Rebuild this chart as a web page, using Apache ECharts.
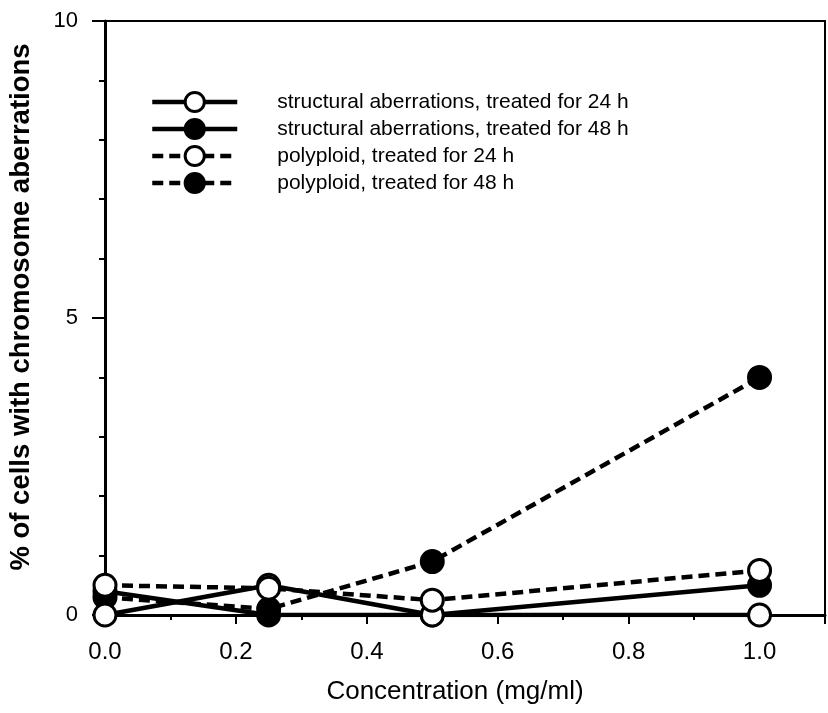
<!DOCTYPE html>
<html>
<head>
<meta charset="utf-8">
<script src="https://cdn.jsdelivr.net/npm/echarts@6/dist/echarts.min.js"></script>
<style>html,body{margin:0;padding:0;background:#fff;}#c{width:828px;height:713px;}</style>
</head>
<body>
<div id="c"></div>
<script>
var concentrations = [0, 0.25, 0.5, 1.0];
var structural24 = [0, 0.5, 0, 0];
var structural48 = [0.4, 0, 0, 0.5];
var polyploid24 = [0.5, 0.45, 0.25, 0.75];
var polyploid48 = [0.3, 0.1, 0.9, 4.0];
var seriesNames = [
  'structural aberrations, treated for 24 h',
  'structural aberrations, treated for 48 h',
  'polyploid, treated for 24 h',
  'polyploid, treated for 48 h'
];

function pairs(vals) { return concentrations.map(function (x, i) { return [x, vals[i]]; }); }

function mk(name, vals, dashed, filled, z) {
  return {
    name: name,
    type: 'line',
    data: pairs(vals),
    symbol: 'circle',
    symbolSize: 22,
    z: z,
    lineStyle: { color: '#000', width: 4.5, type: dashed ? [11, 6] : 'solid' },
    itemStyle: { color: filled ? '#000' : '#fff', borderColor: '#000', borderWidth: 3 },
    emphasis: { disabled: true },
    animation: false
  };
}

var chart = echarts.init(document.getElementById('c'), null, { renderer: 'canvas' });
chart.setOption({
  backgroundColor: '#fff',
  animation: false,
  textStyle: { fontFamily: 'Liberation Sans, Arial, sans-serif', color: '#000' },
  grid: { left: 105, right: 3, top: 21, bottom: 98, show: true, borderColor: '#000', borderWidth: 2,
    outerBoundsMode: 'none', containLabel: false },
  legend: {
    orient: 'vertical',
    left: 150,
    top: 90,
    padding: 0,
    itemWidth: 85,
    itemHeight: 24,
    itemGap: 3,
    data: seriesNames,
    lineStyle: { width: 4.5 },
    itemStyle: { borderWidth: 3 },
    textStyle: { fontSize: 21, color: '#000', padding: [0, 0, 0, 35], lineHeight: 24, fontFamily: 'Liberation Sans, Arial, sans-serif' }
  },
  xAxis: {
    type: 'value',
    min: 0,
    max: 1.1,
    interval: 0.2,
    name: 'Concentration (mg/ml)',
    nameLocation: 'middle',
    nameGap: 64,
    nameTextStyle: { fontSize: 26, color: '#000', padding: [0, 20, 0, 0] },
    axisLine: { lineStyle: { color: '#000', width: 3 } },
    axisTick: { length: 9, lineStyle: { color: '#000', width: 2 } },
    minorTick: { show: true, splitNumber: 2, length: 5, lineStyle: { color: '#000', width: 2 } },
    splitLine: { show: false },
    axisLabel: { fontSize: 24, color: '#000', margin: 25, showMaxLabel: false,
      formatter: function (v) { return v.toFixed(1); } }
  },
  yAxis: {
    type: 'value',
    min: 0,
    max: 10,
    interval: 5,
    name: '% of cells with chromosome aberrations',
    nameLocation: 'middle',
    nameGap: 70,
    nameTextStyle: { fontSize: 27.5, fontWeight: 'bold', color: '#000', padding: [0, 0, 0, 22] },
    axisLine: { lineStyle: { color: '#000', width: 3 } },
    axisTick: { length: 13, lineStyle: { color: '#000', width: 2 } },
    minorTick: { show: true, splitNumber: 5, length: 6, lineStyle: { color: '#000', width: 2 } },
    splitLine: { show: false },
    axisLabel: { fontSize: 22, color: '#000', margin: 27 }
  },
  series: [
    mk(seriesNames[0], structural24, false, false, 4),
    mk(seriesNames[1], structural48, false, true, 3),
    mk(seriesNames[2], polyploid24, true, false, 5),
    mk(seriesNames[3], polyploid48, true, true, 2)
  ]
});
</script>
</body>
</html>
